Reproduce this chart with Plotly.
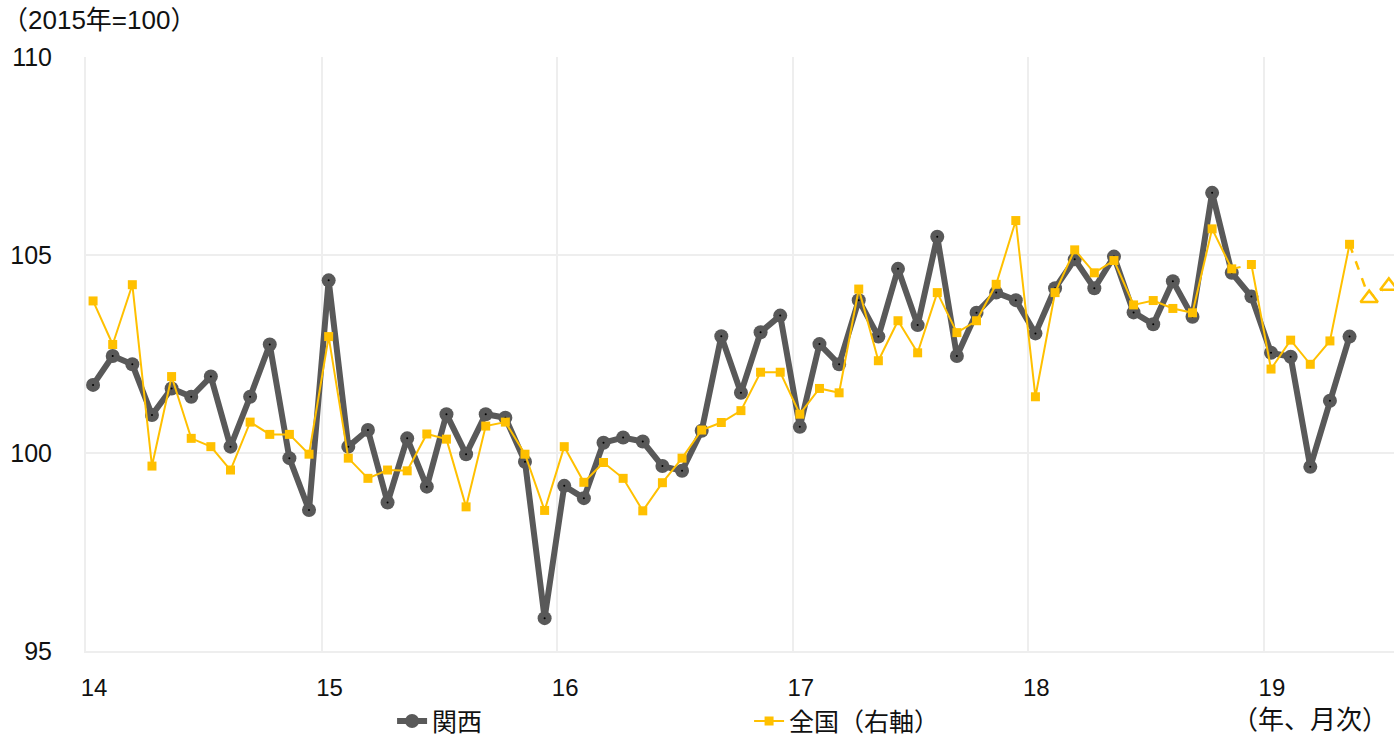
import plotly.graph_objects as go

# Monthly index, 2015 = 100 (Jan 2014 - May 2019)
kansai = [
    101.72, 102.45, 102.24, 100.96, 101.63, 101.42, 101.93, 100.16, 101.42, 102.74, 99.87, 98.56,
    104.36, 100.16, 100.58, 98.75, 100.37, 99.15, 100.98, 99.97, 100.98, 100.89, 99.78, 95.83,
    99.17, 98.86, 100.26, 100.39, 100.29, 99.67, 99.55, 100.56, 102.95, 101.52, 103.05, 103.47,
    100.66, 102.75, 102.24, 103.86, 102.94, 104.65, 103.23, 105.46, 102.45, 103.54, 104.05, 103.86,
    103.02, 104.16, 104.89, 104.16, 104.96, 103.55, 103.25, 104.34, 103.44, 106.57, 104.55, 103.95,
    102.53, 102.43, 99.65, 101.32, 102.94,
]
national = [
    103.84, 102.74, 104.25, 99.67, 101.93, 100.37, 100.16, 99.57, 100.78, 100.47, 100.47, 99.97,
    102.94, 99.87, 99.36, 99.57, 99.55, 100.48, 100.35, 98.64, 100.68, 100.78, 99.97, 98.55,
    100.16, 99.26, 99.76, 99.36, 98.54, 99.25, 99.87, 100.58, 100.77, 101.07, 102.04, 102.04,
    100.98, 101.63, 101.52, 104.14, 102.33, 103.34, 102.53, 104.05, 103.04, 103.34, 104.26, 105.87,
    101.42, 104.05, 105.13, 104.55, 104.86, 103.74, 103.85, 103.65, 103.54, 105.66, 104.65, 104.76,
    102.12, 102.85, 102.24, 102.83, 105.27,
]
# national, Jun - Jul 2019 (preliminary)
national_prelim = [103.91, 104.22]

start_year = 14
year_ticks = [14, 15, 16, 17, 18, 19]
year_labels = ["14", "15", "16", "17", "18", "19"]
BASE = 100

GRAY = "#595959"
GOLD = "#FFC000"
GRID = "#eeeeee"
FONT = "Liberation Sans, Arial, Noto Sans CJK JP, sans-serif"


def month_x(i):
    # position of month i (0 = Jan 2014) on a year axis
    return start_year + (i + 0.36) / 12


x_main = [month_x(i) for i in range(len(kansai))]
x_nat = [month_x(i) for i in range(len(national))]
x_prelim = [month_x(len(national) + i) for i in range(len(national_prelim))]

brk = 59  # Dec 2018: national link Nov->Dec drawn dashed

fig = go.Figure()

# Kansai - thick dark line with round markers
fig.add_trace(go.Scatter(
    x=x_main, y=kansai, mode="lines+markers", name="関西",
    line=dict(color=GRAY, width=6),
    marker=dict(symbol="circle", size=14, color=GRAY)))
fig.add_trace(go.Scatter(
    x=x_main, y=kansai, mode="markers",
    marker=dict(symbol="circle", size=2, color="#000000"),
    showlegend=False, hoverinfo="skip"))

# national (right axis) - thin gold line with square markers
fig.add_trace(go.Scatter(
    x=x_nat[:brk], y=national[:brk], mode="lines",
    line=dict(color=GOLD, width=2), showlegend=False, hoverinfo="skip"))
fig.add_trace(go.Scatter(
    x=x_nat[brk:], y=national[brk:], mode="lines",
    line=dict(color=GOLD, width=2), showlegend=False, hoverinfo="skip"))
fig.add_trace(go.Scatter(
    x=x_nat[brk - 1:brk + 1], y=national[brk - 1:brk + 1], mode="lines",
    line=dict(color=GOLD, width=2, dash="dash"), showlegend=False, hoverinfo="skip"))
fig.add_trace(go.Scatter(
    x=[x_nat[-1]] + x_prelim, y=[national[-1]] + national_prelim, mode="lines",
    line=dict(color=GOLD, width=2.5, dash="dash"), showlegend=False, hoverinfo="skip"))
fig.add_trace(go.Scatter(
    x=x_prelim, y=national_prelim, mode="markers",
    marker=dict(symbol="triangle-up", size=15, color="white", line=dict(color=GOLD, width=2.5)),
    showlegend=False))
fig.add_trace(go.Scatter(
    x=x_nat, y=national, mode="markers", name="全国（右軸）",
    marker=dict(symbol="square", size=9, color=GOLD), showlegend=False))
# legend entry for the national series
fig.add_trace(go.Scatter(
    x=[None], y=[None], mode="lines+markers", name="全国（右軸）",
    line=dict(color=GOLD, width=2), marker=dict(symbol="square", size=9, color=GOLD)))

fig.add_shape(type="line", xref="paper", x0=0, x1=1, yref="y", y0=BASE, y1=BASE,
              line=dict(color="#e6e2d3", width=2), layer="below")

fig.update_layout(
    width=1394, height=736,
    margin=dict(l=86, r=0, t=57, b=85, autoexpand=False),
    paper_bgcolor="white", plot_bgcolor="white",
    font=dict(family=FONT, size=24, color="#111111"),
    showlegend=True,
    legend=dict(orientation="h", x=0.234, xanchor="left",
                yref="container", y=0.02, yanchor="middle",
                entrywidth=312, font=dict(size=25), traceorder="normal",
                bgcolor="rgba(0,0,0,0)", itemclick=False),
    xaxis=dict(range=[14, 19.552], tickvals=year_ticks, ticktext=year_labels,
               showgrid=True, gridcolor=GRID, gridwidth=2, zeroline=False,
               showline=True, linecolor=GRID, linewidth=2, automargin=False,
               ticks="", ticklabelshift=8, ticklabelstandoff=14,
               tickfont=dict(size=24)),
    yaxis=dict(range=[95, 110], tickvals=[95, 100, 105, 110],
               showgrid=True, gridcolor=GRID, gridwidth=2, zeroline=False,
               showline=True, linecolor=GRID, linewidth=2, automargin=False,
               ticks="", ticklabelstandoff=27, tickfont=dict(size=25)),
    annotations=[
        dict(text="（2015年=100）", xref="paper", yref="paper", x=-86 / 1308, y=1.062,
             xanchor="left", yanchor="middle", showarrow=False, font=dict(size=26)),
        dict(text="（年、月次）", xref="paper", yref="paper", x=0.997, y=-0.116,
             xanchor="right", yanchor="middle", showarrow=False, font=dict(size=26)),
    ],
)

fig.write_html("out.html")
